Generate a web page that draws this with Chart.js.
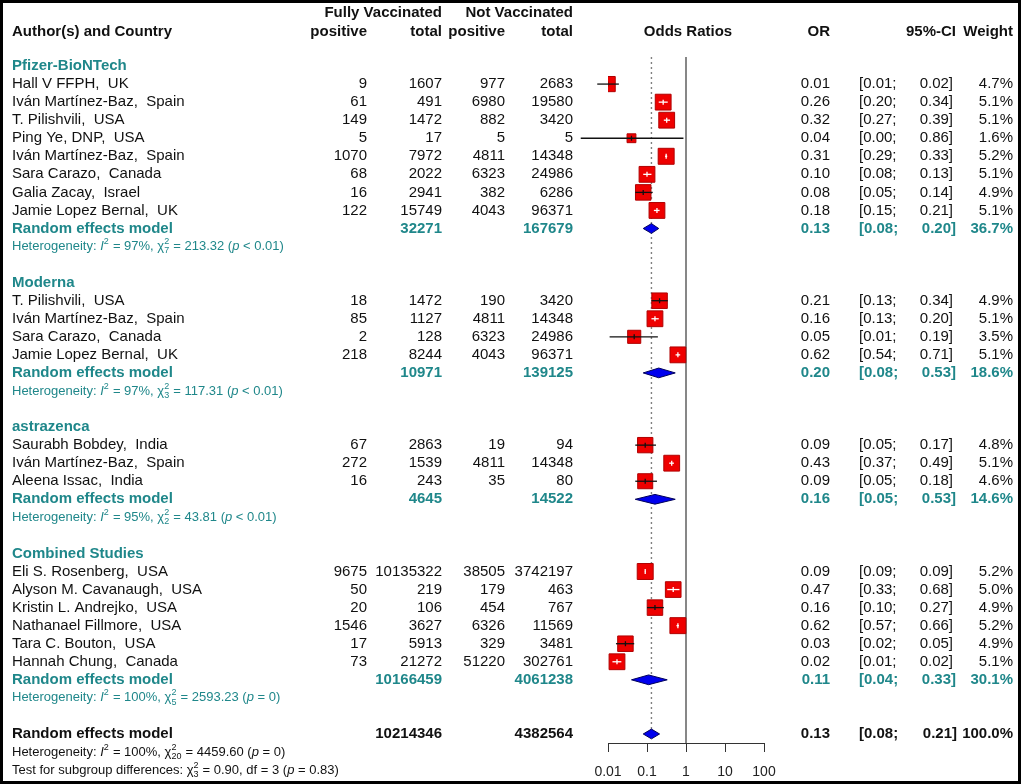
<!DOCTYPE html>
<html>
<head>
<meta charset="utf-8">
<title>Forest plot</title>
<script src="https://cdn.jsdelivr.net/npm/chart.js@4.4.1/dist/chart.umd.min.js"></script>
<style>
  html, body { margin: 0; padding: 0; background: #fff; }
  #wrap { position: relative; width: 1021px; height: 784px; }
</style>
</head>
<body>
<div id="wrap"><canvas id="forest"></canvas></div>
<script>
// ---- data ----
const groupNames = ["Pfizer-BioNTech", "Moderna", "astrazenca", "Combined Studies"];

const studyGroup = [0, 0, 0, 0, 0, 0, 0, 0, 1, 1, 1, 1, 2, 2, 2, 3, 3, 3, 3, 3, 3];
const studyNames = [
  "Hall V FFPH,  UK", "Iván Martínez-Baz,  Spain", "T. Pilishvili,  USA", "Ping Ye, DNP,  USA",
  "Iván Martínez-Baz,  Spain", "Sara Carazo,  Canada", "Galia Zacay,  Israel", "Jamie Lopez Bernal,  UK",
  "T. Pilishvili,  USA", "Iván Martínez-Baz,  Spain", "Sara Carazo,  Canada", "Jamie Lopez Bernal,  UK",
  "Saurabh Bobdey,  India", "Iván Martínez-Baz,  Spain", "Aleena Issac,  India",
  "Eli S. Rosenberg,  USA", "Alyson M. Cavanaugh,  USA", "Kristin L. Andrejko,  USA",
  "Nathanael Fillmore,  USA", "Tara C. Bouton,  USA", "Hannah Chung,  Canada"
];
const vaccPositive = [9, 61, 149, 5, 1070, 68, 16, 122, 18, 85, 2, 218, 67, 272, 16, 9675, 50, 20, 1546, 17, 73];
const vaccTotal = [1607, 491, 1472, 17, 7972, 2022, 2941, 15749, 1472, 1127, 128, 8244, 2863, 1539, 243,
  10135322, 219, 106, 3627, 5913, 21272];
const unvaccPositive = [977, 6980, 882, 5, 4811, 6323, 382, 4043, 190, 4811, 6323, 4043, 19, 4811, 35,
  38505, 179, 454, 6326, 329, 51220];
const unvaccTotal = [2683, 19580, 3420, 5, 14348, 24986, 6286, 96371, 3420, 14348, 24986, 96371, 94, 14348, 80,
  3742197, 463, 767, 11569, 3481, 302761];
const studyOR = [0.0098, 0.26, 0.32, 0.04, 0.31, 0.10, 0.08, 0.18, 0.21, 0.16, 0.047, 0.62, 0.09, 0.43, 0.09,
  0.09, 0.47, 0.16, 0.62, 0.028, 0.017];
const studyLower = [0.0053, 0.20, 0.27, 0.002, 0.29, 0.08, 0.05, 0.15, 0.13, 0.13, 0.011, 0.54, 0.05, 0.37, 0.05,
  0.088, 0.33, 0.10, 0.57, 0.016, 0.013];
const studyUpper = [0.019, 0.34, 0.39, 0.86, 0.33, 0.13, 0.14, 0.21, 0.34, 0.20, 0.19, 0.71, 0.17, 0.49, 0.18,
  0.092, 0.68, 0.27, 0.66, 0.047, 0.022];
const studyWeight = [4.7, 5.1, 5.1, 1.6, 5.2, 5.1, 4.9, 5.1, 4.9, 5.1, 3.5, 5.1, 4.8, 5.1, 4.6,
  5.2, 5.0, 4.9, 5.2, 4.9, 5.1];

const groupVaccTotal = [32271, 10971, 4645, 10166459];
const groupUnvaccTotal = [167679, 139125, 14522, 4061238];
const groupOR = [0.13, 0.20, 0.16, 0.11];
const groupLower = [0.08, 0.08, 0.05, 0.04];
const groupUpper = [0.20, 0.53, 0.53, 0.33];
const groupWeight = [36.7, 18.6, 14.6, 30.1];
const groupI2 = [97, 97, 95, 100];
const groupDf = [7, 3, 2, 5];
const groupQ = [213.32, 117.31, 43.81, 2593.23];
const groupP = ["< 0.01", "< 0.01", "< 0.01", "= 0"];

const overallVaccTotal = 10214346;
const overallUnvaccTotal = 4382564;
const overallOR = 0.13;
const overallLower = 0.08;
const overallUpper = 0.21;
const overallWeight = 100.0;
const overallI2 = 100;
const overallDf = 20;
const overallQ = 4459.60;
const overallP = "= 0";
const subgroupQ = 0.90;
const subgroupDf = 3;
const subgroupP = "= 0.83";

const tickValues = [0.01, 0.1, 1, 10, 100];
const tickLabels = ["0.01", "0.1", "1", "10", "100"];

// ---- row layout ----
const studyRow = [];
const groupHeadRow = [], groupModelRow = [], groupHetRow = [];
let r = 0;
groupNames.forEach((g, gi) => {
  groupHeadRow[gi] = r++;
  studyGroup.forEach((sg, si) => { if (sg === gi) studyRow[si] = r++; });
  groupModelRow[gi] = r++;
  groupHetRow[gi] = r++;
  r++; // blank line
});
const overallRow = r++;
const overallHetRow = r++;
const subgroupRow = r++;

const FONT = "'Liberation Sans', Arial, sans-serif";
const TEAL = "#1f878a";
const INK = "#111";
const col = { name: 12, vPos: 367, vTot: 442, uPos: 505, uTot: 573, odds: 688, or: 830, lo: 859, hi: 953, ciHead: 956, w: 1013 };

const squareSide = (w) => 7 * Math.sqrt(w);

// ---- datasets ----
const ciPoints = [];
studyNames.forEach((n, i) => {
  ciPoints.push({ x: studyLower[i], y: studyRow[i] }, { x: studyUpper[i], y: studyRow[i] }, { x: null, y: null });
});

// CI line fits inside the square -> drawn white, otherwise black
const ciInside = (chart, i) => {
  const xs = chart.scales.x;
  const w = xs.getPixelForValue(studyUpper[i]) - xs.getPixelForValue(studyLower[i]);
  return w <= squareSide(studyWeight[i]);
};

const diamond = (est, lo, hi, row, fillCol, order) => ({
  data: [{ x: lo, y: row }, { x: est, y: row - 0.27 }, { x: hi, y: row }, { x: est, y: row + 0.27 }, { x: lo, y: row }],
  showLine: true,
  fill: "shape",
  backgroundColor: fillCol,
  borderColor: "#00005a",
  borderWidth: 1,
  pointRadius: 0,
  order: order
});

const datasets = [
  {
    // line of no effect
    data: [{ x: 1, y: -0.5 }, { x: 1, y: 37.5 }],
    showLine: true, borderColor: "#555", borderWidth: 1.4, pointRadius: 0, order: 10
  },
  {
    // overall estimate
    data: [{ x: overallOR, y: -0.5 }, { x: overallOR, y: overallRow }],
    showLine: true, borderColor: "#808080", borderWidth: 1.4, borderDash: [2, 3], pointRadius: 0, order: 9
  },
  ...groupNames.map((g, gi) => diamond(groupOR[gi], groupLower[gi], groupUpper[gi], groupModelRow[gi], "#0000ee", 8)),
  diamond(overallOR, overallLower, overallUpper, overallRow, "#0000ee", 8),
  {
    // study squares
    data: studyOR.map((v, i) => ({ x: v, y: studyRow[i] })),
    pointStyle: "rect",
    pointRadius: (c) => squareSide(studyWeight[c.dataIndex]) / Math.SQRT2,
    backgroundColor: "#ee0000",
    borderColor: "#b00000",
    borderWidth: 1,
    order: 7
  },
  {
    // confidence intervals
    data: ciPoints,
    showLine: true,
    spanGaps: false,
    clip: false,
    borderWidth: 1.3,
    borderColor: "#000",
    segment: {
      borderColor: (c) => ciInside(c.chart, Math.floor(c.p0DataIndex / 3)) ? "#fff" : "#111"
    },
    pointRadius: 0,
    order: 6
  },
  {
    // estimate marks
    data: studyOR.map((v, i) => ({ x: v, y: studyRow[i] })),
    pointStyle: "line",
    rotation: 90,
    pointRadius: 2.5,
    borderWidth: 1.3,
    borderColor: (c) => ciInside(c.chart, c.dataIndex) ? "#fff" : "#111",
    order: 5
  }
];

// ---- text columns ----
function put(ctx, s, x, y, align, font, color) {
  ctx.font = font;
  ctx.textAlign = align;
  ctx.fillStyle = color;
  ctx.fillText(s, x, y);
}

function rich(ctx, x, y, parts, size, color) {
  const base = size + "px " + FONT;
  const small = Math.round(size * 0.72) + "px " + FONT;
  ctx.textAlign = "left";
  ctx.fillStyle = color;
  parts.forEach((p) => {
    if (typeof p === "string") {
      ctx.font = base;
      ctx.fillText(p, x, y);
      x += ctx.measureText(p).width;
    } else if (p.i) {
      ctx.font = "italic " + base;
      ctx.fillText(p.i, x, y);
      x += ctx.measureText(p.i).width;
    } else {
      ctx.font = small;
      let w = 0;
      if (p.sup) { ctx.fillText(p.sup, x, y - size * 0.38); w = ctx.measureText(p.sup).width; }
      if (p.sub) { ctx.fillText(p.sub, x, y + size * 0.32); w = Math.max(w, ctx.measureText(p.sub).width); }
      x += w + 0.5;
    }
  });
}

const hetParts = (i2, df, q, p) => ["Heterogeneity: ", { i: "I" }, { sup: "2" }, " = " + i2 + "%, ", "χ",
  { sup: "2", sub: String(df) }, " = " + q.toFixed(2) + " (", { i: "p" }, " " + p + ")"];

const forestText = {
  id: "forestText",
  afterDraw(chart) {
    const ctx = chart.ctx;
    const ys = chart.scales.y;
    const Y = (row) => ys.getPixelForValue(row);
    const reg = "15px " + FONT;
    const bold = "bold 15px " + FONT;
    ctx.save();
    ctx.textBaseline = "middle";

    // header
    put(ctx, "Fully Vaccinated", col.vTot, Y(-2.92), "right", bold, INK);
    put(ctx, "Not Vaccinated", col.uTot, Y(-2.92), "right", bold, INK);
    const h2 = Y(-1.9);
    put(ctx, "Author(s) and Country", col.name, h2, "left", bold, INK);
    put(ctx, "positive", col.vPos, h2, "right", bold, INK);
    put(ctx, "total", col.vTot, h2, "right", bold, INK);
    put(ctx, "positive", col.uPos, h2, "right", bold, INK);
    put(ctx, "total", col.uTot, h2, "right", bold, INK);
    put(ctx, "Odds Ratios", col.odds, h2, "center", bold, INK);
    put(ctx, "OR", col.or, h2, "right", bold, INK);
    put(ctx, "95%-CI", col.ciHead, h2, "right", bold, INK);
    put(ctx, "Weight", col.w, h2, "right", bold, INK);

    const resultCols = (y, est, lo, hi, w, font, color, hiX) => {
      put(ctx, est.toFixed(2), col.or, y, "right", font, color);
      put(ctx, "[" + lo.toFixed(2) + ";", col.lo, y, "left", font, color);
      put(ctx, hi.toFixed(2) + "]", hiX, y, "right", font, color);
      put(ctx, w.toFixed(1) + "%", col.w, y, "right", font, color);
    };

    groupNames.forEach((g, gi) => {
      put(ctx, g, col.name, Y(groupHeadRow[gi]), "left", bold, TEAL);
      const ym = Y(groupModelRow[gi]);
      put(ctx, "Random effects model", col.name, ym, "left", bold, TEAL);
      put(ctx, String(groupVaccTotal[gi]), col.vTot, ym, "right", bold, TEAL);
      put(ctx, String(groupUnvaccTotal[gi]), col.uTot, ym, "right", bold, TEAL);
      resultCols(ym, groupOR[gi], groupLower[gi], groupUpper[gi], groupWeight[gi], bold, TEAL, col.hi + 3);
      rich(ctx, col.name, Y(groupHetRow[gi]), hetParts(groupI2[gi], groupDf[gi], groupQ[gi], groupP[gi]), 13, TEAL);
    });

    studyNames.forEach((n, i) => {
      const y = Y(studyRow[i]);
      put(ctx, n, col.name, y, "left", reg, INK);
      put(ctx, String(vaccPositive[i]), col.vPos, y, "right", reg, INK);
      put(ctx, String(vaccTotal[i]), col.vTot, y, "right", reg, INK);
      put(ctx, String(unvaccPositive[i]), col.uPos, y, "right", reg, INK);
      put(ctx, String(unvaccTotal[i]), col.uTot, y, "right", reg, INK);
      resultCols(y, studyOR[i], studyLower[i], studyUpper[i], studyWeight[i], reg, INK, col.hi);
    });

    const yo = Y(overallRow);
    put(ctx, "Random effects model", col.name, yo, "left", bold, INK);
    put(ctx, String(overallVaccTotal), col.vTot, yo, "right", bold, INK);
    put(ctx, String(overallUnvaccTotal), col.uTot, yo, "right", bold, INK);
    resultCols(yo, overallOR, overallLower, overallUpper, overallWeight, bold, INK, col.hi + 4);
    rich(ctx, col.name, Y(overallHetRow), hetParts(overallI2, overallDf, overallQ, overallP), 13, INK);
    rich(ctx, col.name, Y(subgroupRow), ["Test for subgroup differences: ", "χ", { sup: "2", sub: String(subgroupDf) },
      " = " + subgroupQ.toFixed(2) + ", df = " + subgroupDf + " (", { i: "p" }, " " + subgroupP + ")"], 13, INK);

    // frame
    ctx.lineWidth = 3;
    ctx.strokeStyle = "#000";
    ctx.strokeRect(1.5, 1.5, chart.width - 3, chart.height - 3);
    ctx.restore();
  }
};

new Chart(document.getElementById("forest"), {
  type: "scatter",
  data: { datasets: datasets },
  options: {
    responsive: true,
    maintainAspectRatio: false,
    animation: false,
    events: [],
    layout: { padding: { left: 608, right: 257, top: 57, bottom: 5 } },
    plugins: { legend: { display: false }, tooltip: { enabled: false } },
    scales: {
      x: {
        type: "logarithmic",
        min: 0.01,
        max: 100,
        afterBuildTicks: (scale) => { scale.ticks = tickValues.map((v) => ({ value: v })); },
        afterFit: (scale) => { scale.height = 36; },
        ticks: {
          autoSkip: false,
          maxRotation: 0,
          padding: 12,
          color: "#222",
          font: { family: FONT, size: 14 },
          callback: (v, i) => tickLabels[i]
        },
        grid: { drawOnChartArea: false, drawTicks: true, tickLength: 9, color: "#333", lineWidth: 1 },
        border: { display: true, color: "#333", width: 1 }
      },
      y: {
        type: "linear",
        reverse: true,
        min: -0.5,
        max: 37.5,
        display: false
      }
    }
  },
  plugins: [forestText]
});
</script>
</body>
</html>
